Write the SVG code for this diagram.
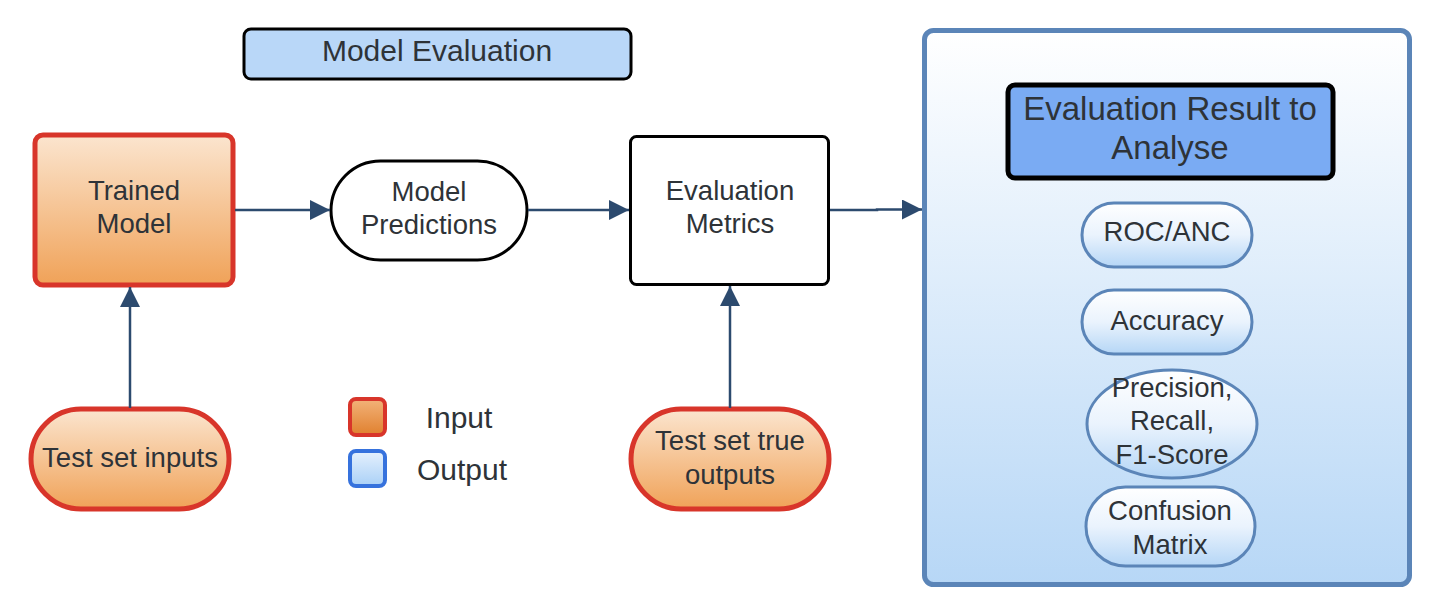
<svg xmlns="http://www.w3.org/2000/svg" width="1432" height="604" viewBox="0 0 1432 604">
<defs>
<linearGradient id="gOrange" x1="0" y1="0" x2="0" y2="1"><stop offset="0" stop-color="#fbe5cf"/><stop offset="1" stop-color="#f0a258"/></linearGradient>
<linearGradient id="gOrangeL" x1="0" y1="0" x2="0" y2="1"><stop offset="0" stop-color="#f2b37a"/><stop offset="1" stop-color="#e0802e"/></linearGradient>
<linearGradient id="gBlueBig" x1="0" y1="0" x2="0" y2="1"><stop offset="0" stop-color="#ffffff"/><stop offset="1" stop-color="#b7d7f6"/></linearGradient>
<linearGradient id="gBlueSmall" x1="0" y1="0" x2="0" y2="1"><stop offset="0" stop-color="#ffffff"/><stop offset="0.5" stop-color="#eaf3fd"/><stop offset="1" stop-color="#b5d6f6"/></linearGradient>
<linearGradient id="gBlueL" x1="0" y1="0" x2="0" y2="1"><stop offset="0" stop-color="#e6f1fd"/><stop offset="1" stop-color="#a9d0f7"/></linearGradient>
<marker id="arr" viewBox="0 0 10 10" refX="10" refY="5" markerWidth="20" markerHeight="20" markerUnits="userSpaceOnUse" orient="auto">
<path d="M0,0 L10,5 L0,10 Z" fill="#2c4a6e"/>
</marker>
<style>
text{font-family:"Liberation Sans",Arial,sans-serif;fill:#2e3338;text-anchor:middle;dominant-baseline:central}
.t24{font-size:27.5px}
.t26{font-size:30px}
.t29{font-size:33px}
.lg{font-size:30px}
.in{fill:url(#gOrange);stroke:#d8352a;stroke-width:5}
.bl{fill:#fff;stroke:#000;stroke-width:3}
.met{fill:url(#gBlueSmall);stroke:#5b85b8;stroke-width:3}
.conn{fill:none;stroke:#2c4a6e;stroke-width:2.5;marker-end:url(#arr)}
</style>
</defs>
<g id="title">
<rect x="244" y="29" width="387" height="50" rx="7" fill="#b9d7f8" stroke="#000" stroke-width="3"/>
<text class="t26" x="437" y="50">Model Evaluation</text>
</g>
<g id="results">
<rect x="924.5" y="30.5" width="485" height="554" rx="9" fill="url(#gBlueBig)" stroke="#5b85b8" stroke-width="5"/>
</g>
<g id="results-title">
<rect x="1008" y="85" width="325" height="93" rx="7" fill="#7aabf3" stroke="#000" stroke-width="5"/>
<text class="t29" x="1170" y="108">Evaluation Result to</text>
<text class="t29" x="1170" y="147">Analyse</text>
</g>
<g id="roc">
<rect x="1082" y="203" width="170" height="64" rx="32" class="met"/>
<text class="t24" x="1167" y="231">ROC/ANC</text>
</g>
<g id="accuracy">
<rect x="1082" y="290" width="170" height="64" rx="32" class="met"/>
<text class="t24" x="1167" y="320">Accuracy</text>
</g>
<g id="prf">
<ellipse cx="1172" cy="424" rx="85" ry="54" class="met"/>
<text class="t24" x="1172" y="387">Precision,</text>
<text class="t24" x="1172" y="420">Recall,</text>
<text class="t24" x="1172" y="454">F1-Score</text>
</g>
<g id="confusion">
<rect x="1086" y="487" width="169" height="79" rx="39.5" class="met"/>
<text class="t24" x="1170" y="510">Confusion</text>
<text class="t24" x="1170" y="544">Matrix</text>
</g>
<g id="trained-model">
<rect x="35" y="135" width="198" height="150" rx="8" class="in"/>
<text class="t24" x="134" y="190">Trained</text>
<text class="t24" x="134" y="223">Model</text>
</g>
<g id="model-predictions">
<rect x="331" y="161" width="196" height="99" rx="49.5" class="bl"/>
<text class="t24" x="429" y="191">Model</text>
<text class="t24" x="429" y="224">Predictions</text>
</g>
<g id="evaluation-metrics">
<rect x="630.5" y="136.5" width="198" height="148" rx="6" class="bl"/>
<text class="t24" x="730" y="190">Evaluation</text>
<text class="t24" x="730" y="223">Metrics</text>
</g>
<g id="test-inputs">
<rect x="31" y="409" width="198" height="100" rx="50" class="in"/>
<text class="t24" x="130" y="457">Test set inputs</text>
</g>
<g id="test-outputs">
<rect x="631" y="409" width="198" height="100" rx="50" class="in"/>
<text class="t24" x="730" y="440">Test set true</text>
<text class="t24" x="730" y="474">outputs</text>
</g>
<g id="legend">
<rect x="350" y="399" width="35" height="36" rx="6" fill="url(#gOrangeL)" stroke="#d8352a" stroke-width="4"/>
<text class="lg" x="459" y="417">Input</text>
<rect x="350" y="451" width="35" height="35" rx="6" fill="url(#gBlueL)" stroke="#3672dd" stroke-width="4"/>
<text class="lg" x="462" y="469">Output</text>
</g>
<g id="connectors">
<path class="conn" d="M235,210 L330,210"/>
<path class="conn" d="M528,210 L629,210"/>
<path class="conn" d="M830,210 L877,210 L877,209.5 L922,209.5"/>
<path class="conn" d="M130,408 L130,287"/>
<path class="conn" d="M730,408 L730,286"/>
</g>
</svg>
